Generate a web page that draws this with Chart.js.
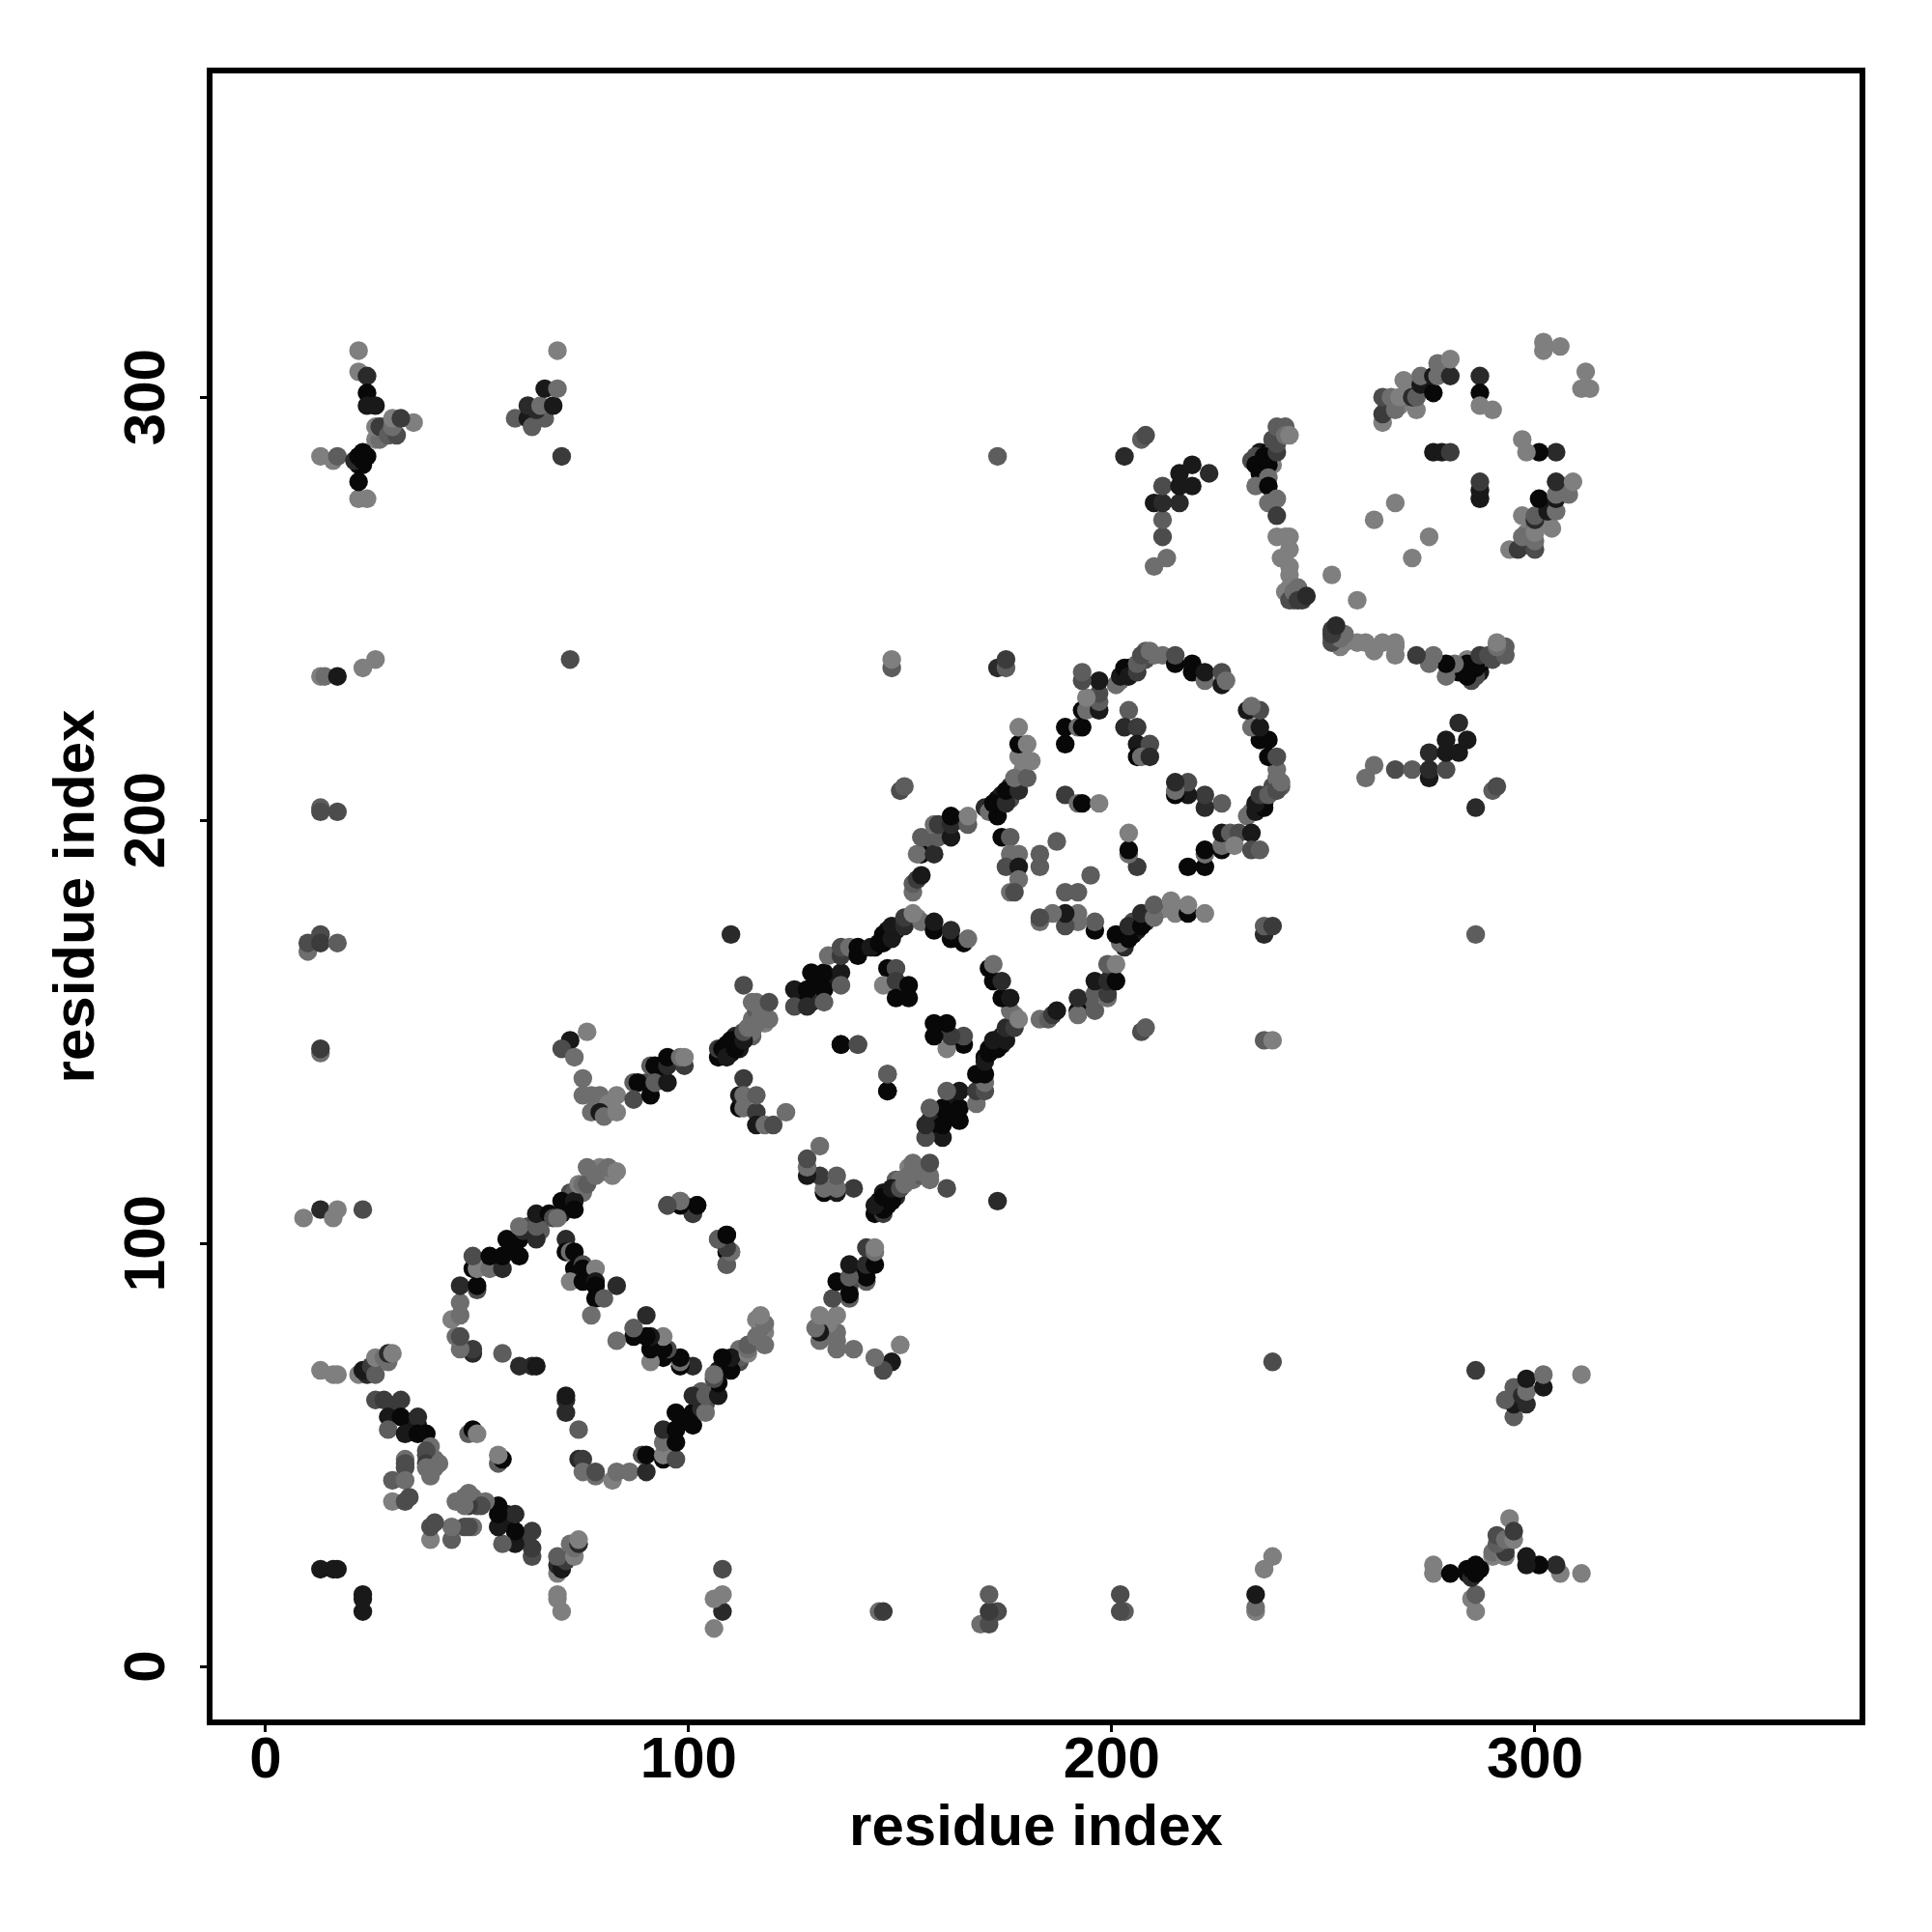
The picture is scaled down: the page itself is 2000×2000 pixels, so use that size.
<!DOCTYPE html>
<html lang="en">

<head>
    <meta charset="UTF-8" />
    <script src="https://cdn.jsdelivr.net/npm/chart.js"></script>
    <title>Contact map</title>
    <style>
        body { margin: 0; background: #fff; }
        canvas { display: block; }
    </style>
</head>

<body>
    <canvas id="contactMap" width="2000" height="2000"></canvas>
</body>

</html>

<script>
    const tickValues = [0, 100, 200, 300];

    const residueI = [
        72,73,75,77,79,80,82,115,116,118,118,115,176,174,177,179,205,208,208,210,147,149,150,152,154,144,146,147,243,245,241,
        129,131,130,134,107,107,110,109,111,112,115,115,90,93,94,157,160,164,170,173,174,176,201,203,205,204,235,237,238,
        58,62,65,265,266,268,270,270,274,275,278,279,22,23,34,35,36,38,39,40,235,236,236,235,238,238,
        9,13,16,17,23,13,16,17,13,16,17,
        13,13,10,10,13,13,17,13,13,17,13,14,17,13,16,17,23,26,72,
        22,22,24,24,24,26,35,26,27,28,26,27,29,31,30,30,32,22,24,22,21,22,23,23,24,
        59,62,63,66,62,64,65,68,66,69,69,70,
        22,24,23,25,26,26,28,29,29,30,
        26,28,32,30,29,32,36,29,33,36,38,39,38,33,38,33,33,38,41,40,39,30,33,30,33,34,
        48,49,50,
        49,49,46,45,46,44,46,46,46,50,50,49,50,53,56,49,53,56,60,57,60,61,64,60,64,64,56,60,63,64,
        67,68,70,70,73,74,75,76,76,78,81,83,
        71,71,72,73,73,75,75,78,72,75,78,78,83,78,80,77,69,73,
        95,98,99,101,102,107,109,109,110,109,
        76,72,70,73,75,75,77,79,81,83,77,79,80,83,87,88,87,91,91,92,92,95,95,95,99,98,99,
        112,108,109,110,111,113,113,114,116,117,119,116,119,113,
        127,125,125,128,128,129,132,132,132,136,136,
        133,136,136,138,140,140,143,145,146,148,148,151,151,155,153,158,158,162,162,165,166,
        136,140,147,147,147,149,146,149,152,149,152,
        112,112,113,113,113,116,116,116,118,120,123,
        110,173,148,148,173,175,175,150,151,
        153,153,154,155,155,154,158,155,159,158,159,162,162,162,166,166,
        171,173,172,175,175,178,177,180,178,181,178,180,178,
        174,176,176,178,175,178,178,176,177,
        183,183,187,189,192,193,197,189,189,192,193,193,194,197,197,197,194,197,193,193,
        202,202,203,204,206,206,207,209,212,215,215,219,219,222,222,226,226,227,
        204,203,206,206,209,206,207,209,
        210,213,212,212,210,212,216,212,216,219,216,219,223,203,207,208,
        233,234,236,234,237,239,239,238,239,241,241,242,237,234,237,237,239,239,
        239,241,242,242,240,242,242,242,242,243,244,244,245,246,
        252,262,267,
        264,264,264,266,267,268,269,272,271,272,273,273,276,276,277,277,280,280,
        287,287,287,290,276,278,280,302,302,306
    ];
    const residueJ = [
        112,112,112,116,118,117,116,153,155,156,152,157,205,204,208,212,236,238,240,239,172,174,175,177,177,170,171,174,252,253,254,
        157,158,162,162,144,146,145,147,149,149,149,150,138,140,141,194,197,200,203,205,206,208,232,234,235,236,287,287,287,
        99,104,103,298,298,298,300,302,303,304,306,307,284,284,57,58,57,50,48,49,282,284,285,286,286,284,
        106,108,106,108,108,70,69,69,23,23,23,
        145,146,169,171,173,171,171,203,202,202,234,234,234,286,285,286,236,238,238,
        311,306,305,301,298,298,294,290,290,293,293,293,291,291,293,295,295,276,276,280,285,286,285,287,286,
        295,295,293,295,298,297,298,298,302,302,311,286,
        69,69,70,71,69,73,73,72,74,74,
        63,63,63,61,59,59,59,56,55,55,55,52,51,49,48,48,47,47,48,47,45,44,44,39,39,40,
        55,56,55,
        74,75,75,78,78,82,83,86,90,89,90,94,94,94,94,97,97,97,97,101,101,103,101,104,104,107,74,71,71,71,
        107,106,107,110,110,114,114,114,118,116,118,117,
        101,98,98,98,94,95,94,94,91,91,91,90,90,87,87,83,106,108,
        109,110,109,107,109,101,102,98,98,95,
        150,148,146,144,139,135,135,135,133,135,131,131,130,131,138,138,134,135,142,142,138,138,142,144,142,144,144,
        146,146,144,148,146,148,150,151,152,155,153,157,157,161,
        158,160,156,160,156,164,164,160,157,164,161,
        168,168,170,170,170,168,170,171,173,172,175,175,177,176,178,174,176,172,174,171,172,
        147,147,136,140,165,165,161,162,161,158,158,
        132,135,139,135,132,131,135,128,128,128,131,
        173,286,236,238,236,236,238,207,208,
        183,185,186,187,192,192,192,196,196,199,199,196,199,201,199,201,
        202,201,204,204,207,207,210,210,215,214,218,218,222,
        196,196,192,192,189,189,186,183,183,
        189,192,195,206,204,204,204,218,222,222,222,226,226,226,228,230,229,233,233,235,
        233,234,236,234,235,237,239,240,239,237,239,235,237,233,235,232,235,233,
        226,222,222,218,218,215,215,215,
        260,262,267,271,275,275,275,279,279,279,282,284,282,286,290,291,
        285,286,286,284,284,287,289,290,293,293,291,291,281,279,279,275,276,272,
        267,267,267,264,262,260,258,255,252,254,255,252,252,253,
        258,271,275,
        294,296,300,300,297,300,304,297,300,300,303,305,301,305,305,308,305,309,
        305,301,298,297,287,287,287,313,311,312
    ];
    const greyLevel = [
        4,5,6,6,7,6,7,6,5,7,7,6,4,1,6,7,6,4,5,6,0,1,5,6,7,0,0,1,5,4,7,
        1,2,0,1,0,3,0,0,2,1,5,6,4,1,0,5,2,3,2,0,1,2,6,0,1,1,1,0,4,
        0,4,5,6,6,7,6,7,6,2,6,7,0,0,1,1,1,4,6,6,0,0,1,1,3,7,
        7,2,7,7,4,7,7,7,1,1,1,
        6,3,6,4,4,3,5,5,4,4,7,6,1,7,7,5,7,7,4,
        7,7,2,0,1,1,7,7,6,6,7,3,5,4,6,7,3,7,7,0,2,0,0,0,0,
        5,1,5,5,2,2,6,1,1,6,7,3,
        7,2,1,3,5,7,6,6,2,7,
        4,3,3,3,1,0,2,5,1,0,0,6,4,6,3,4,4,6,6,6,6,5,6,7,4,4,
        5,0,7,
        2,3,6,6,4,7,6,6,2,4,0,0,7,6,2,4,0,0,0,0,0,2,2,6,5,1,5,2,2,1,
        0,4,1,0,1,7,6,5,6,6,6,7,
        2,0,6,0,0,4,0,7,7,0,1,0,2,0,5,6,6,0,
        5,6,3,5,0,3,0,0,6,4,
        7,1,4,6,6,6,6,6,7,7,6,1,6,7,5,0,4,0,5,0,5,1,2,0,3,6,7,
        1,0,1,0,0,1,4,6,6,6,6,6,4,4,
        0,1,4,0,2,0,0,0,5,1,5,
        6,3,4,6,0,0,1,0,0,1,1,2,3,6,7,0,1,0,2,0,6,
        0,5,0,4,0,4,7,3,0,0,0,
        0,1,3,6,6,3,5,1,6,4,6,
        2,5,5,7,2,5,3,4,5,
        6,5,3,1,0,6,2,5,5,6,3,1,2,0,5,7,
        6,0,0,2,0,2,6,5,7,7,0,7,7,
        0,5,6,6,4,1,6,6,4,
        5,5,5,3,6,0,7,0,0,6,0,0,6,1,5,4,7,1,4,5,
        6,1,0,1,3,5,4,6,6,0,4,0,0,6,1,1,4,6,
        5,2,3,1,4,0,6,2,
        6,6,4,5,1,2,2,4,1,1,1,1,2,2,5,4,
        4,4,0,0,0,3,4,4,5,5,6,7,6,6,0,6,6,3,
        7,7,7,7,7,7,7,7,4,6,6,3,3,2,
        7,7,7,
        7,3,4,6,6,7,7,7,2,5,1,6,0,1,6,6,2,7,
        2,0,7,7,1,1,3,7,7,7
    ];

    // the map shows each pair twice, once either side of the diagonal
    const xValues = [...residueI, ...residueJ];
    const yValues = [...residueJ, ...residueI];
    const levels = [...greyLevel, ...greyLevel];

    const frameBox = {
        id: 'frameBox',
        afterDatasetsDraw(chart) {
            const { ctx, chartArea } = chart;
            ctx.save();
            ctx.strokeStyle = '#000';
            ctx.lineWidth = 6;
            ctx.strokeRect(chartArea.left, chartArea.top, chartArea.right - chartArea.left, chartArea.bottom - chartArea.top);
            ctx.restore();
        }
    };

    const axisFont = { family: '"Liberation Sans"', size: 60, weight: 'bold' };

    new Chart(document.getElementById('contactMap'), {
        type: 'scatter',
        data: {
            datasets: [{
                data: xValues.map((x, i) => ({ x: x, y: yValues[i] })),
                pointRadius: 9.7,
                pointBorderWidth: 0,
                pointBackgroundColor: levels.map(l => {
                    const g = 8 + l * 17;
                    return 'rgb(' + g + ',' + g + ',' + g + ')';
                })
            }]
        },
        options: {
            responsive: false,
            animation: false,
            devicePixelRatio: 1,
            layout: { padding: { top: 73, right: 72 } },
            plugins: {
                legend: { display: false },
                tooltip: { enabled: false }
            },
            scales: {
                x: {
                    type: 'linear',
                    min: -13.2,
                    max: 377.4,
                    afterBuildTicks: scale => { scale.ticks = tickValues.map(v => ({ value: v })); },
                    afterFit: scale => { scale.height = 217; },
                    grid: { drawOnChartArea: false, color: '#000', lineWidth: 3, tickLength: 10 },
                    border: { display: false },
                    ticks: { color: '#000', font: axisFont, padding: -6, autoSkip: false, maxRotation: 0 },
                    title: { display: true, text: 'residue index', color: '#000', font: axisFont, padding: { top: 0, bottom: 71 } }
                },
                y: {
                    type: 'linear',
                    min: -13.2,
                    max: 377.2,
                    afterBuildTicks: scale => { scale.ticks = tickValues.map(v => ({ value: v })); },
                    afterFit: scale => { scale.width = 217; },
                    grid: { drawOnChartArea: false, color: '#000', lineWidth: 3, tickLength: 10 },
                    border: { display: false },
                    ticks: { color: '#000', font: axisFont, padding: 3, autoSkip: false, minRotation: 90, maxRotation: 90, crossAlign: 'center' },
                    title: { display: true, text: 'residue index', color: '#000', font: axisFont, padding: { top: 44, bottom: 0 } }
                }
            }
        },
        plugins: [frameBox]
    });
</script>
